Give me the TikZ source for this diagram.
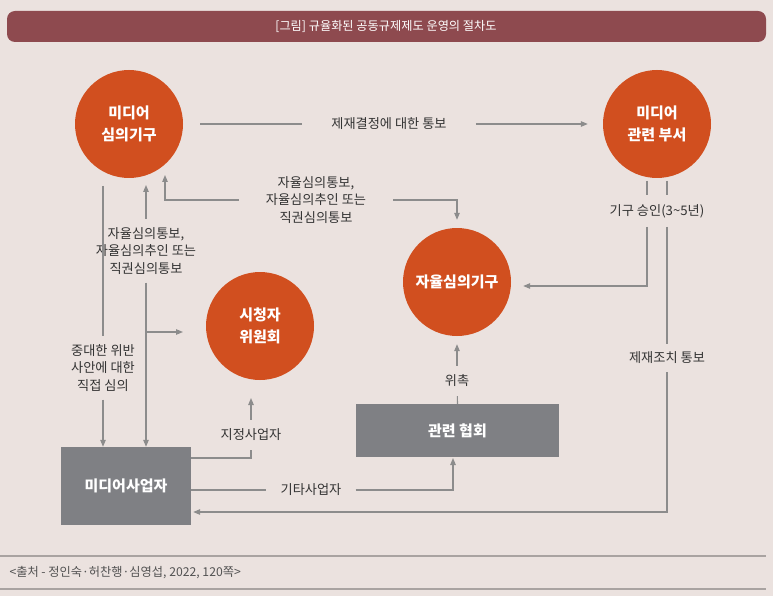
\documentclass[tikz,border=0pt]{standalone}
\usepackage{fontspec}
\setmainfont{Noto Sans CJK KR}
\usetikzlibrary{calc,arrows.meta,positioning}
\definecolor{bgc}{HTML}{EBE2DF}
\definecolor{titc}{HTML}{8E4A4F}
\definecolor{orgc}{HTML}{D14F1F}
\definecolor{boxc}{HTML}{7F8084}
\definecolor{linec}{HTML}{8C8C8C}
\definecolor{txtc}{HTML}{333333}
\definecolor{footc}{HTML}{A9A3A1}

\begin{document}
\begin{tikzpicture}[x=1pt,y=-1pt,
	org/.style={circle,fill=orgc,minimum size=108pt,inner sep=0pt,text=white,align=center,
		font=\fontsize{15}{21.5}\selectfont\bfseries},
	gbox/.style={rectangle,fill=boxc,inner sep=0pt,text=white,
		font=\fontsize{15}{21.5}\selectfont\bfseries},
	lbl/.style={text=txtc,align=center,inner sep=0pt,font=\fontsize{13.2}{17.5}\selectfont},
	link/.style={draw=linec,line width=1.1pt},
	tipr/.style={-{Triangle[length=7pt,width=5.5pt]}},
	tipl/.style={{Triangle[length=7pt,width=5.5pt]}-}]
	\useasboundingbox (0,0) rectangle (773,596);
	\fill[bgc] (0,0) rectangle (773,596);
	% title and source
	\fill[titc,rounded corners=8pt] (7,11) rectangle (766,42);
	\node[text=white,font=\fontsize{12.2}{14}\selectfont] (ttl) at (386,26.5) {[그림] 규율화된 공동규제제도 운영의 절차도};
	\draw[footc,line width=1.3pt] (0,556) -- (766,556);
	\draw[footc,line width=1.3pt] (0,589) -- (766,589);
	\node[anchor=west,text=txtc!85,font=\fontsize{12.2}{14}\selectfont] (src) at (6,573) {<출처 - 정인숙·허찬행·심영섭, 2022, 120쪽>};

	\node[org] (mc) at (129,124) {미디어\\심의기구};
	\node[org] (md) at (657,124) {미디어\\관련 부서};
	\node[org] (sr) at (457,282) {자율심의기구};
	\node[org] (vc) at (260,326) {시청자\\위원회};
	\node[gbox,minimum width=130pt,minimum height=78pt] (mb) at (126,486) {미디어사업자};
	\node[gbox,minimum width=203pt,minimum height=53pt] (as) at (457.5,430.5) {관련 협회};

	\node[lbl,inner xsep=29pt] (la) at (389,124) {제재결정에 대한 통보};
	\node[lbl,inner xsep=27pt] (lb) at (316,200) {자율심의통보,\\자율심의추인 또는\\직권심의통보};
	\node[lbl,inner ysep=8pt] (lc) at (103,368) {중대한 위반\\사안에 대한\\직접 심의};
	\node[lbl,inner ysep=8pt] (ld) at (146,251) {자율심의통보,\\자율심의추인 또는\\직권심의통보};
	\node[lbl,inner ysep=9pt] (le) at (251,435) {지정사업자};
	\node[lbl,inner xsep=14pt] (lf) at (311,490) {기타사업자};
	\node[lbl,inner ysep=9pt] (lg) at (457,381) {위촉};
	\node[lbl,inner ysep=9pt] (lh) at (657,211) {기구 승인(3\textasciitilde5년)};
	\node[lbl,inner ysep=8pt] (li) at (667,358) {제재조치 통보};

	\coordinate (b1) at (165,175);
	\coordinate (c1) at (103,186);
	\coordinate (d1) at (146,185);
	\coordinate (d2) at (146,332);
	\coordinate (d3) at (183,332);
	\coordinate (e1) at (191,458);
	\coordinate (e2) at (251,398);
	\coordinate (f2) at (453,458);
	\coordinate (h1) at (647,181);
	\coordinate (h2) at (667,181);

	% connectors
	\draw[link,shorten <=17pt] (mc) -- (la);
	\draw[link,tipr,shorten >=15pt] (la) -- (md);
	\draw[link,tipl] (b1) |- (lb.west);
	\draw[link,tipr] (lb.east) -| ([yshift=8pt]sr.north);
	\draw[link] (c1) -- (lc);
	\draw[link,tipr] (lc) -- (lc |- mb.north);
	\draw[link,tipl] (d1) -- (ld);
	\draw[link,tipr] (ld) -- (ld |- mb.north);
	\draw[link,tipr] (d2) -- (d3);
	\draw[link] (e1) -| (le);
	\draw[link,tipr] (le) -- (e2);
	\draw[link] (lf -| mb.east) -- (lf);
	\draw[link,tipr] (lf) -| (f2);
	\draw[link] (as.north) -- (lg);
	\draw[link,tipr] (lg) -- ([yshift=-8pt]sr.south);
	\draw[link] (h1) -- (h1 |- lh.north);
	\draw[link] (h2) -- (h2 |- lh.north);
	\draw[link,tipr] (h1 |- lh.south) |- ([xshift=12pt,yshift=-4pt]sr.east);
	\draw[link] (h2 |- lh.south) -- (h2 |- li.north);
	\draw[link,tipr] (h2 |- li.south) |- ([xshift=2pt,yshift=-26pt]mb.east);
\end{tikzpicture}
\end{document}
